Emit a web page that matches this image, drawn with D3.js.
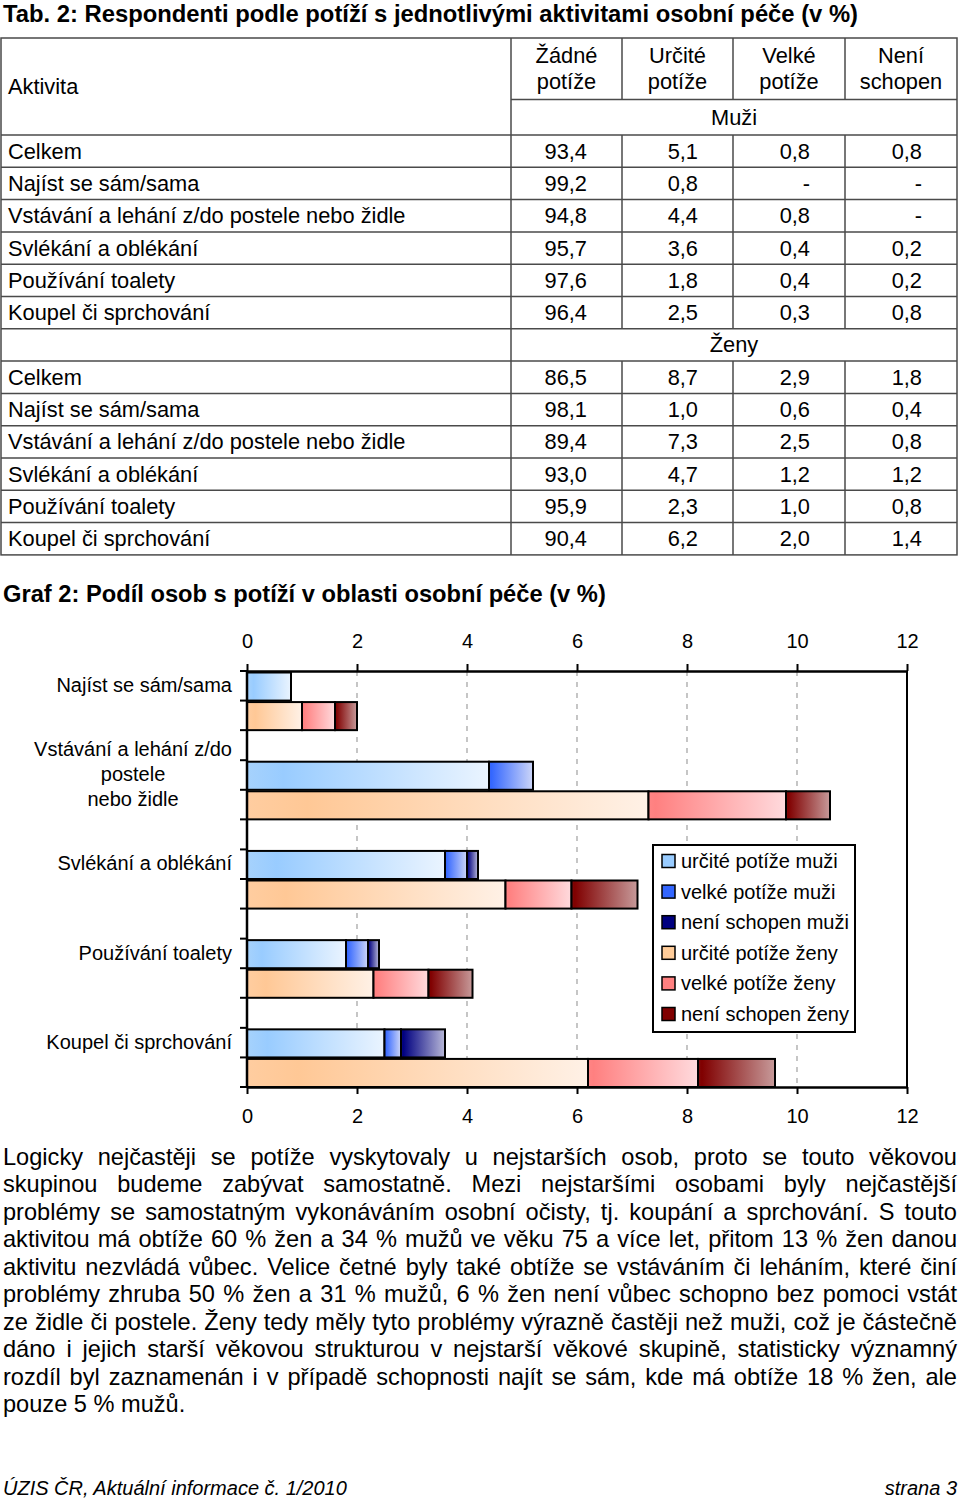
<!DOCTYPE html>
<html>
<head>
<meta charset="utf-8">
<script src="https://cdn.jsdelivr.net/npm/d3@7"></script>
<style>
  body { margin: 0; background: #fff; }
  text { font-family: "Liberation Sans", Arial, sans-serif; fill: #000; }
</style>
</head>
<body>
<script>
// --- data ---
var activities = ["Celkem", "Najíst se sám/sama", "Vstávání a lehání z/do postele nebo židle",
                  "Svlékání a oblékání", "Používání toalety", "Koupel či sprchování"];
var columns = [["Žádné", "potíže"], ["Určité", "potíže"], ["Velké", "potíže"], ["Není", "schopen"]];
var menValues = [
  [93.4, 5.1, 0.8, 0.8],
  [99.2, 0.8, null, null],
  [94.8, 4.4, 0.8, null],
  [95.7, 3.6, 0.4, 0.2],
  [97.6, 1.8, 0.4, 0.2],
  [96.4, 2.5, 0.3, 0.8]
];
var womenValues = [
  [86.5, 8.7, 2.9, 1.8],
  [98.1, 1.0, 0.6, 0.4],
  [89.4, 7.3, 2.5, 0.8],
  [93.0, 4.7, 1.2, 1.2],
  [95.9, 2.3, 1.0, 0.8],
  [90.4, 6.2, 2.0, 1.4]
];
var chartLabels = [["Najíst se sám/sama"], ["Vstávání a lehání z/do", "postele", "nebo židle"],
                   ["Svlékání a oblékání"], ["Používání toalety"], ["Koupel či sprchování"]];
var seriesNames = ["určité potíže muži", "velké potíže muži", "není schopen muži",
                   "určité potíže ženy", "velké potíže ženy", "není schopen ženy"];
var xTicks = [0, 2, 4, 6, 8, 10, 12];
var paragraph = [
  "Logicky nejčastěji se potíže vyskytovaly u nejstarších osob, proto se touto věkovou",
  "skupinou budeme zabývat samostatně. Mezi nejstaršími osobami byly nejčastější",
  "problémy se samostatným vykonáváním osobní očisty, tj. koupání a sprchování. S touto",
  "aktivitou má obtíže 60 % žen a 34 % mužů ve věku 75 a více let, přitom 13 % žen danou",
  "aktivitu nezvládá vůbec. Velice četné byly také obtíže se vstáváním či leháním, které činí",
  "problémy zhruba 50 % žen a 31 % mužů, 6 % žen není vůbec schopno bez pomoci vstát",
  "ze židle či postele. Ženy tedy měly tyto problémy výrazně častěji než muži, což je částečně",
  "dáno i jejich starší věkovou strukturou v nejstarší věkové skupině, statisticky významný",
  "rozdíl byl zaznamenán i v případě schopnosti najít se sám, kde má obtíže 18 % žen, ale",
  "pouze 5 % mužů."
];

var width = 960, height = 1501;
var svg = d3.select("body").append("svg")
  .attr("width", width).attr("height", height);
svg.append("rect").attr("width", width).attr("height", height).attr("fill", "#fff");

// --- table ---
svg.append("text").attr("x", 3).attr("y", 22)
  .style("font-size", "23.8px").style("font-weight", "bold")
  .text("Tab. 2: Respondenti podle potíží s jednotlivými aktivitami osobní péče (v %)");

var colX = [511, 622, 733, 845, 957];
var tTop = 38, tHead = 135, rowH = 32.3;
var tFont = "21.8px";
var rows = [];
activities.forEach(function(a, i) { rows.push({label: a, vals: menValues[i]}); });
rows.push({group: "Ženy"});
activities.forEach(function(a, i) { rows.push({label: a, vals: womenValues[i]}); });

var lineColor = "#4a4a4a";
var tg = svg.append("g").attr("stroke", lineColor).attr("stroke-width", 1.5);
var tBottom = tHead + rowH * rows.length;
tg.append("rect").attr("x", 1).attr("y", tTop).attr("width", 956).attr("height", tBottom - tTop)
  .attr("fill", "none");
tg.append("line").attr("x1", colX[0]).attr("x2", colX[0]).attr("y1", tTop).attr("y2", tBottom);
colX.slice(1, 4).forEach(function(x) {
  tg.append("line").attr("x1", x).attr("x2", x).attr("y1", tTop).attr("y2", 99.5);
});
tg.append("line").attr("x1", colX[0]).attr("x2", 957).attr("y1", 99.5).attr("y2", 99.5);
rows.forEach(function(r, i) {
  var y = tHead + rowH * i;
  tg.append("line").attr("x1", 1).attr("x2", 957).attr("y1", y).attr("y2", y);
  if (!r.group) {
    colX.slice(1, 4).forEach(function(x) {
      tg.append("line").attr("x1", x).attr("x2", x).attr("y1", y).attr("y2", y + rowH);
    });
  }
});

svg.append("text").attr("x", 8).attr("y", 94).style("font-size", tFont).text("Aktivita");
columns.forEach(function(c, j) {
  var cx = (colX[j] + colX[j + 1]) / 2;
  c.forEach(function(line, k) {
    svg.append("text").attr("x", cx).attr("y", 63 + k * 26).attr("text-anchor", "middle")
      .style("font-size", tFont).text(line);
  });
});
svg.append("text").attr("x", (colX[0] + 957) / 2).attr("y", 125).attr("text-anchor", "middle")
  .style("font-size", tFont).text("Muži");

var fmt = function(v) { return v == null ? "-" : d3.format(".1f")(v).replace(".", ","); };
rows.forEach(function(r, i) {
  var by = tHead + rowH * (i + 0.5) + 7.5;
  if (r.group) {
    svg.append("text").attr("x", (colX[0] + 957) / 2).attr("y", by).attr("text-anchor", "middle")
      .style("font-size", tFont).text(r.group);
    return;
  }
  svg.append("text").attr("x", 8).attr("y", by).style("font-size", tFont).text(r.label);
  r.vals.forEach(function(v, j) {
    svg.append("text").attr("x", colX[j + 1] - 35).attr("y", by).attr("text-anchor", "end")
      .style("font-size", tFont).text(fmt(v));
  });
});

// --- chart ---
svg.append("text").attr("x", 3).attr("y", 602)
  .style("font-size", "23.7px").style("font-weight", "bold")
  .text("Graf 2: Podíl osob s potíží v oblasti osobní péče (v %)");

var cats = chartLabels.map(function(d) { return d.join(" "); });
var x = d3.scaleLinear().domain([0, 12]).range([247, 907]);
var y = d3.scaleBand().domain(cats).range([671, 1087]).paddingInner(0.337).paddingOuter(0);
var ySub = d3.scaleBand().domain(["m", "z"]).range([0, y.bandwidth()]);

var colors = [
  ["#a6d2fc", "#99ccff", "#eaf4ff"],
  ["#3d66f5", "#3366ff", "#cdd6f8"],
  ["#0b0b80", "#000080", "#b8b8d8"],
  ["#ffcda0", "#ffc896", "#fff1e6"],
  ["#ff8585", "#ff8080", "#ffdadd"],
  ["#7f0b0b", "#800000", "#c79a9a"]
];
var solid = ["#99ccff", "#3366ff", "#000080", "#ffcc99", "#ff8080", "#800000"];
var defs = svg.append("defs");
colors.forEach(function(c, i) {
  var g = defs.append("linearGradient").attr("id", "g" + i)
    .attr("x1", "0").attr("x2", "1").attr("y1", "0").attr("y2", "0");
  g.append("stop").attr("offset", "0").attr("stop-color", c[0]);
  g.append("stop").attr("offset", i % 3 == 0 ? "0.15" : "0.05").attr("stop-color", c[1]);
  g.append("stop").attr("offset", "1").attr("stop-color", c[2]);
});

// grid
svg.append("g").selectAll("line").data(xTicks.filter(function(t) { return t > 0 && t < 12; }))
  .enter().append("line")
  .attr("x1", function(d) { return x(d); }).attr("x2", function(d) { return x(d); })
  .attr("y1", 671).attr("y2", 1087)
  .attr("stroke", "#a0a0a0").attr("stroke-width", 1.2).attr("stroke-dasharray", "5,6");
svg.append("line").attr("x1", x(12)).attr("x2", x(12)).attr("y1", 671).attr("y2", 1087)
  .attr("stroke", "#000").attr("stroke-width", 2);

// bars
var barData = [];
chartLabels.forEach(function(l, i) {
  var idx = i + 1;
  [["m", menValues[idx], 0], ["z", womenValues[idx], 3]].forEach(function(s) {
    var x0 = 0;
    s[1].slice(1).forEach(function(v, k) {
      if (v) barData.push({cat: cats[i], sex: s[0], x0: x0, x1: x0 + v, series: s[2] + k});
      x0 += v || 0;
    });
  });
});
svg.append("g").selectAll("rect").data(barData).enter().append("rect")
  .attr("x", function(d) { return x(d.x0); })
  .attr("width", function(d) { return x(d.x1) - x(d.x0); })
  .attr("y", function(d) { return y(d.cat) + ySub(d.sex) + 1.5; })
  .attr("height", ySub.bandwidth() - 1.5)
  .attr("fill", function(d) { return "url(#g" + d.series + ")"; })
  .attr("stroke", "#000").attr("stroke-width", 2);

// axes
var axTop = svg.append("g").attr("transform", "translate(0,671)")
  .call(d3.axisTop(x).tickValues(xTicks).tickSize(7).tickSizeOuter(0).tickPadding(16));
var axBot = svg.append("g").attr("transform", "translate(0,1087)")
  .call(d3.axisBottom(x).tickValues(xTicks).tickSize(7).tickSizeOuter(0).tickPadding(15));
[axTop, axBot].forEach(function(a) {
  a.select(".domain").attr("stroke", "#000").attr("stroke-width", 2.5);
  a.selectAll(".tick line").attr("stroke", "#000").attr("stroke-width", 2);
  a.selectAll(".tick text").style("font-size", "20px")
    .style("font-family", "'Liberation Sans', Arial, sans-serif");
});

// left axis with ticks at bar edges
svg.append("line").attr("x1", 247).attr("x2", 247).attr("y1", 671).attr("y2", 1087)
  .attr("stroke", "#000").attr("stroke-width", 2.5);
var yTicks = [];
cats.forEach(function(c) { yTicks.push(y(c), y(c) + ySub("z"), y(c) + y.bandwidth()); });
svg.append("g").selectAll("line").data(yTicks).enter().append("line")
  .attr("x1", 240).attr("x2", 247)
  .attr("y1", function(d) { return d; }).attr("y2", function(d) { return d; })
  .attr("stroke", "#000").attr("stroke-width", 2);

// category labels
chartLabels.forEach(function(lines, i) {
  var t = svg.append("text").style("font-size", "20px");
  var widths = lines.map(function(l) {
    var tmp = t.append("tspan").text(l);
    var w = tmp.node().getComputedTextLength();
    tmp.remove();
    return w;
  });
  var cx = 232 - d3.max(widths) / 2;
  var cy = y(cats[i]) + 14;
  lines.forEach(function(l, k) {
    t.append("tspan").attr("x", cx).attr("text-anchor", "middle")
      .attr("y", cy + (k - (lines.length - 1) / 2) * 25 + 7).text(l);
  });
});

// legend
var lg = svg.append("g");
lg.append("rect").attr("x", 653).attr("y", 845).attr("width", 202).attr("height", 187)
  .attr("fill", "#fff").attr("stroke", "#000").attr("stroke-width", 2);
seriesNames.forEach(function(n, i) {
  var cy = 861 + i * 30.6;
  lg.append("rect").attr("x", 662).attr("y", cy - 6.5).attr("width", 13).attr("height", 13)
    .attr("fill", solid[i]).attr("stroke", "#000").attr("stroke-width", 1.5);
  lg.append("text").attr("x", 681).attr("y", cy + 7).style("font-size", "20px").text(n);
});

// --- paragraph (justified) ---
var pg = svg.append("g").style("font-size", "23.6px");
paragraph.forEach(function(line, i) {
  var by = 1165 + i * 27.45;
  var t = pg.append("text").attr("y", by);
  var words = line.split(" ");
  if (i == paragraph.length - 1) {
    t.attr("x", 3).text(line);
    return;
  }
  var ws = words.map(function(w) {
    var tmp = t.append("tspan").text(w);
    var l = tmp.node().getComputedTextLength();
    tmp.remove();
    return l;
  });
  var gap = (957 - 3 - d3.sum(ws)) / (words.length - 1);
  var cx = 3;
  words.forEach(function(w, k) {
    t.append("tspan").attr("x", cx).text(w);
    cx += ws[k] + gap;
  });
});

// footer
svg.append("text").attr("x", 3).attr("y", 1495).style("font-size", "20px")
  .style("font-style", "italic").text("ÚZIS ČR, Aktuální informace č. 1/2010");
svg.append("text").attr("x", 957).attr("y", 1495).attr("text-anchor", "end").style("font-size", "20px")
  .style("font-style", "italic").text("strana 3");
</script>
</body>
</html>
